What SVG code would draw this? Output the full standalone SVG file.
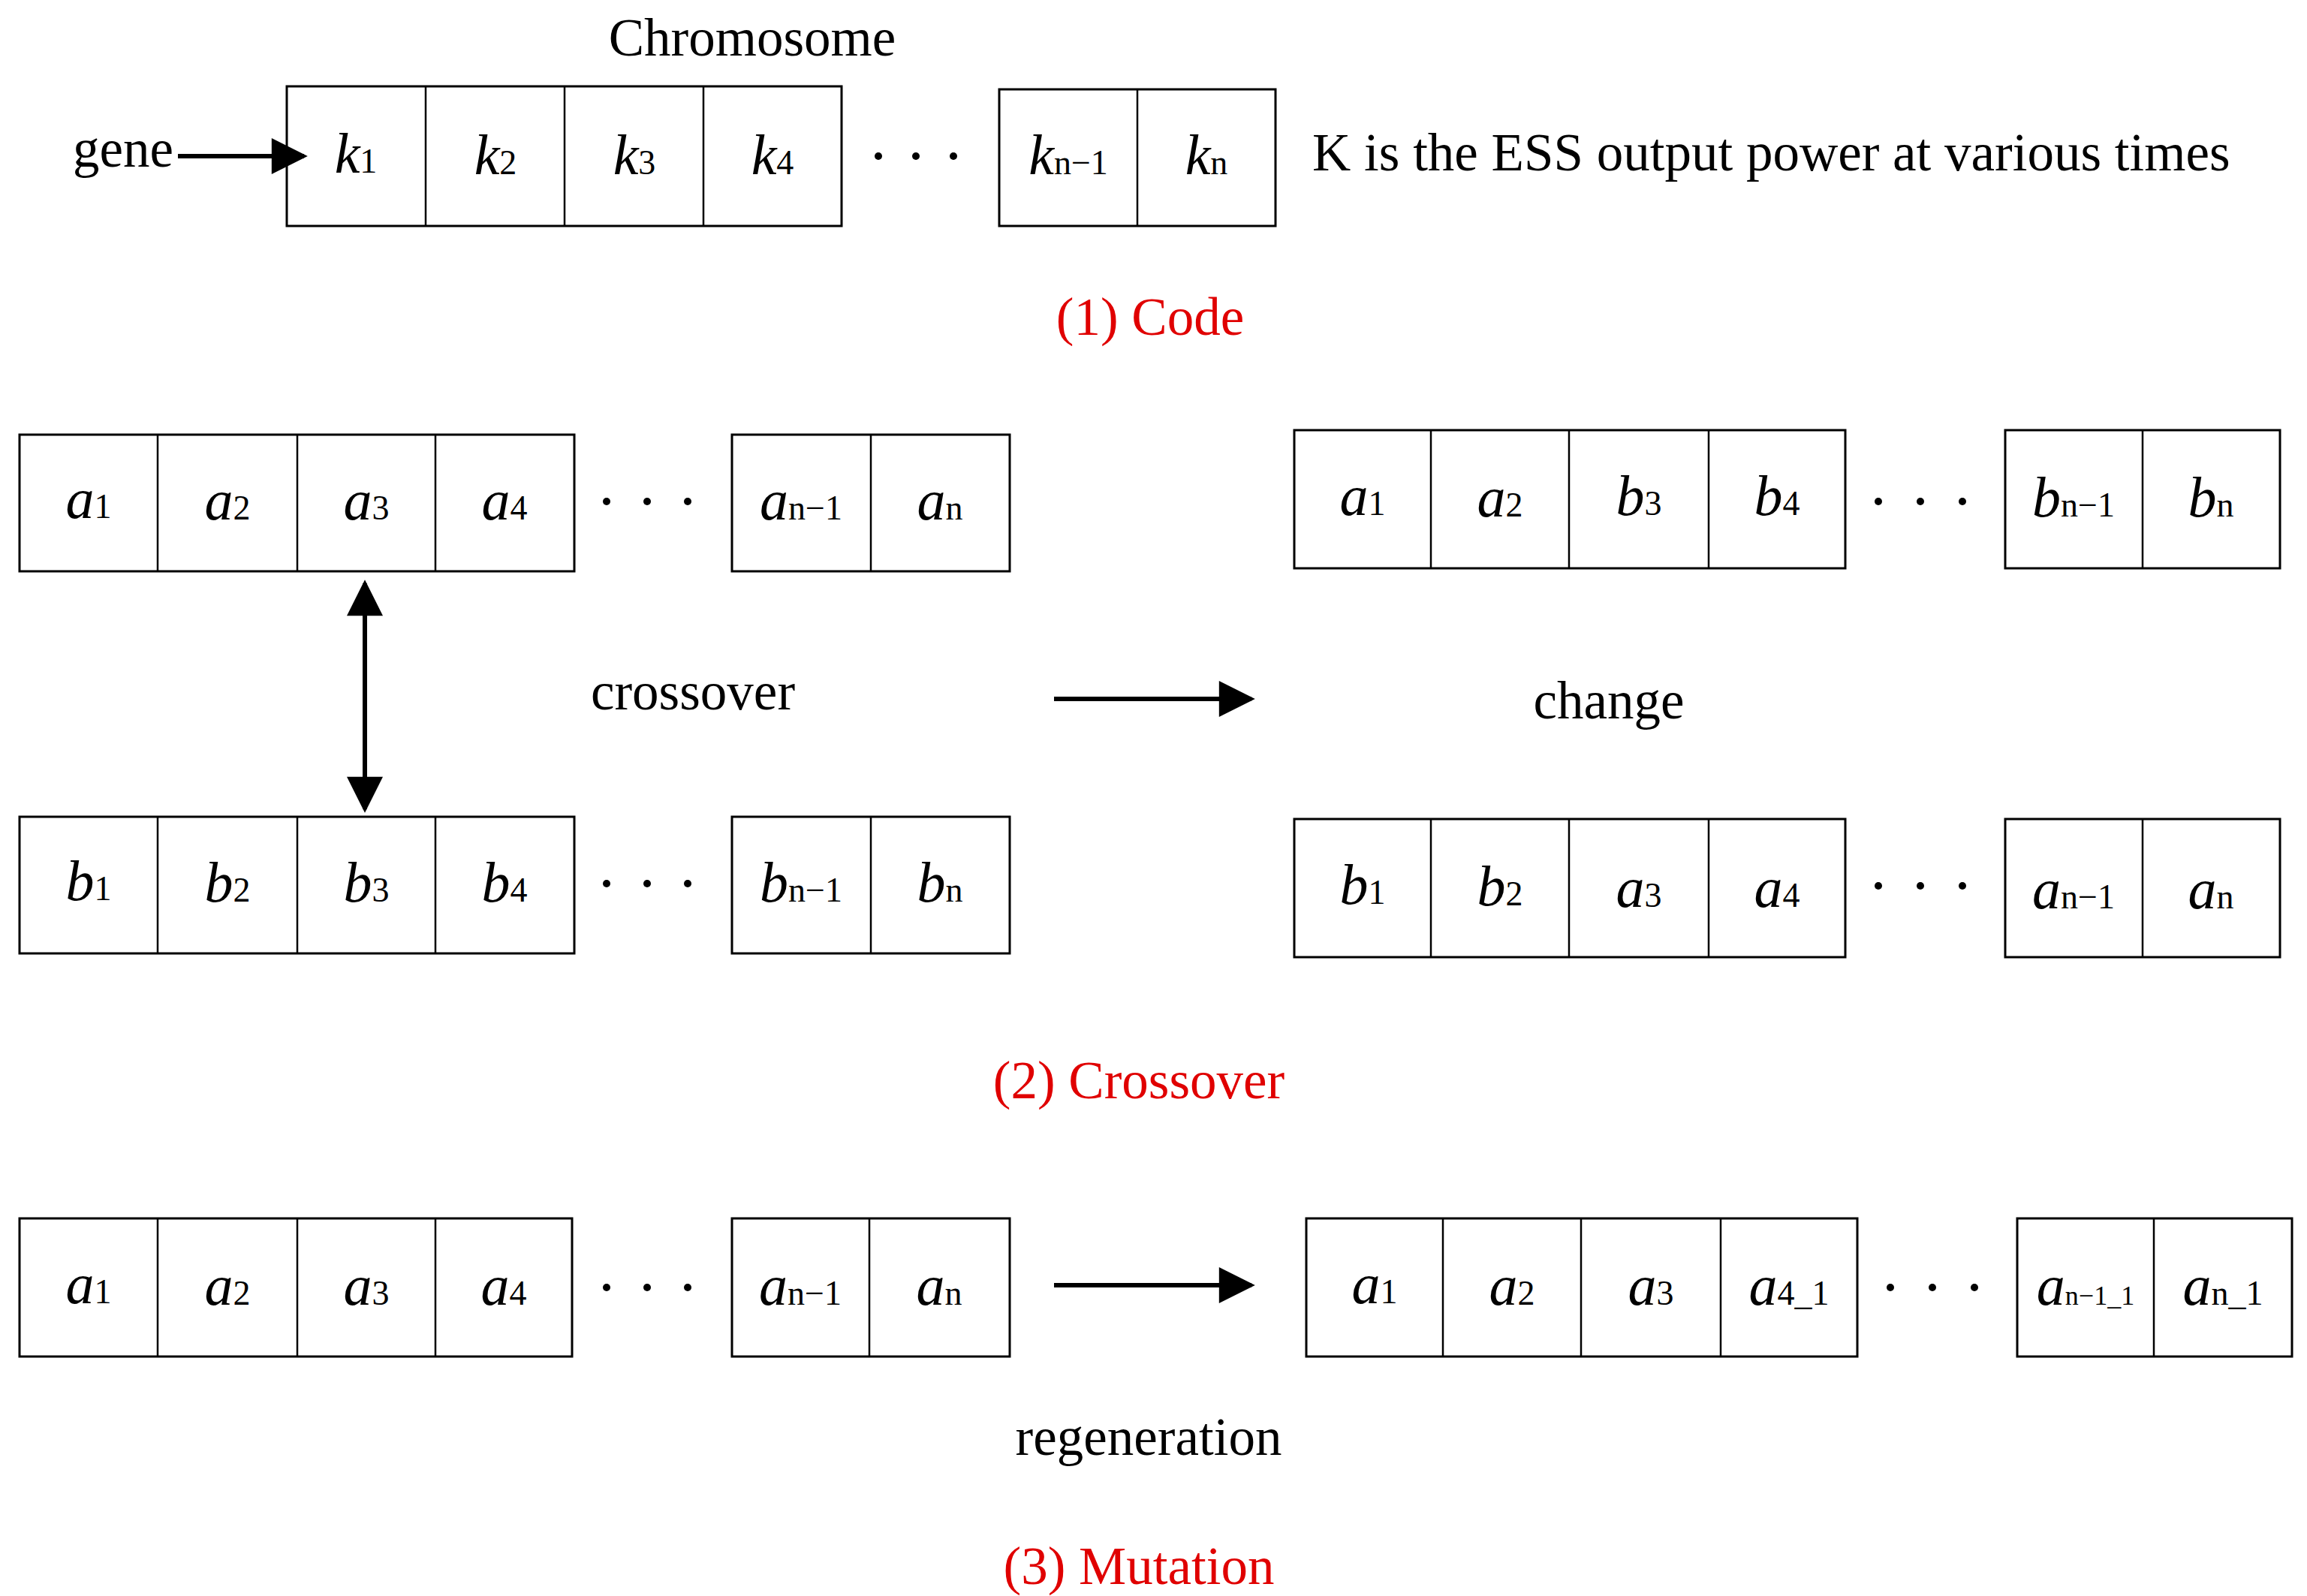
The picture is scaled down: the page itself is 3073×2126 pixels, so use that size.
<svg xmlns="http://www.w3.org/2000/svg" width="3073" height="2126" viewBox="0 0 3073 2126">
<defs>
<style>
.b{fill:#fff;stroke:#000;stroke-width:3}
.l{stroke:#000;stroke-width:2.5}
.t{font-family:"Liberation Serif",serif;font-size:71px;fill:#000}
.r{font-family:"Liberation Serif",serif;font-size:71px;fill:#e00000;text-anchor:middle}
.c{font-family:"Liberation Serif",serif;font-size:76px;font-style:italic;text-anchor:middle}
.s{font-style:normal;font-size:46px}
.s2{font-style:normal;font-size:36px}
.ln{stroke:#000;stroke-width:6;fill:none}
</style>
<marker id="a" viewBox="0 0 10 10" refX="9" refY="5" markerWidth="11" markerHeight="8" orient="auto-start-reverse"><path d="M0,0L10,5L0,10z"/></marker>
</defs>
<text class="t" x="1002" y="74" text-anchor="middle">Chromosome</text>
<text class="t" x="97" y="222">gene</text>
<text class="t" x="1748" y="227">K is the ESS output power at various times</text>
<text class="r" x="1532" y="446">(1) Code</text>
<text class="t" x="923" y="945" text-anchor="middle">crossover</text>
<text class="t" x="2143" y="957" text-anchor="middle">change</text>
<text class="r" x="1517" y="1463">(2) Crossover</text>
<text class="t" x="1530" y="1938" text-anchor="middle">regeneration</text>
<text class="r" x="1517" y="2110">(3) Mutation</text>

<g id="row-k">
<rect class="b" x="382" y="115" width="739" height="186"/>
<line class="l" x1="567" y1="115" x2="567" y2="301"/><line class="l" x1="752" y1="115" x2="752" y2="301"/><line class="l" x1="937" y1="115" x2="937" y2="301"/>
<rect class="b" x="1331" y="119" width="368" height="182"/><line class="l" x1="1515" y1="119" x2="1515" y2="301"/>
<text class="c" x="474" y="230">k<tspan class="s">1</tspan></text>
<text class="c" x="660" y="232">k<tspan class="s">2</tspan></text>
<text class="c" x="845" y="232">k<tspan class="s">3</tspan></text>
<text class="c" x="1029" y="232">k<tspan class="s">4</tspan></text>
<text class="c" x="1423" y="232">k<tspan class="s">n−1</tspan></text>
<text class="c" x="1607" y="232">k<tspan class="s">n</tspan></text>
<circle cx="1170" cy="208" r="5"/><circle cx="1220" cy="208" r="5"/><circle cx="1270" cy="208" r="5"/>
</g>

<g id="row-a">
<rect class="b" x="26" y="579" width="739" height="182"/>
<line class="l" x1="210" y1="579" x2="210" y2="761"/><line class="l" x1="396" y1="579" x2="396" y2="761"/><line class="l" x1="580" y1="579" x2="580" y2="761"/>
<rect class="b" x="975" y="579" width="370" height="182"/><line class="l" x1="1160" y1="579" x2="1160" y2="761"/>
<text class="c" x="118" y="690">a<tspan class="s">1</tspan></text>
<text class="c" x="303" y="692">a<tspan class="s">2</tspan></text>
<text class="c" x="488" y="692">a<tspan class="s">3</tspan></text>
<text class="c" x="672" y="692">a<tspan class="s">4</tspan></text>
<text class="c" x="1067" y="692">a<tspan class="s">n−1</tspan></text>
<text class="c" x="1252" y="692">a<tspan class="s">n</tspan></text>
<circle cx="808" cy="668" r="5"/><circle cx="862" cy="668" r="5"/><circle cx="916" cy="668" r="5"/>
</g>

<g id="row-b">
<rect class="b" x="26" y="1088" width="739" height="182"/>
<line class="l" x1="210" y1="1088" x2="210" y2="1270"/><line class="l" x1="396" y1="1088" x2="396" y2="1270"/><line class="l" x1="580" y1="1088" x2="580" y2="1270"/>
<rect class="b" x="975" y="1088" width="370" height="182"/><line class="l" x1="1160" y1="1088" x2="1160" y2="1270"/>
<text class="c" x="118" y="1199">b<tspan class="s">1</tspan></text>
<text class="c" x="303" y="1201">b<tspan class="s">2</tspan></text>
<text class="c" x="488" y="1201">b<tspan class="s">3</tspan></text>
<text class="c" x="672" y="1201">b<tspan class="s">4</tspan></text>
<text class="c" x="1067" y="1201">b<tspan class="s">n−1</tspan></text>
<text class="c" x="1252" y="1201">b<tspan class="s">n</tspan></text>
<circle cx="808" cy="1177" r="5"/><circle cx="862" cy="1177" r="5"/><circle cx="916" cy="1177" r="5"/>
</g>

<g id="row-a2">
<rect class="b" x="1724" y="573" width="734" height="184"/>
<line class="l" x1="1906" y1="573" x2="1906" y2="757"/><line class="l" x1="2090" y1="573" x2="2090" y2="757"/><line class="l" x1="2276" y1="573" x2="2276" y2="757"/>
<rect class="b" x="2671" y="573" width="366" height="184"/><line class="l" x1="2854" y1="573" x2="2854" y2="757"/>
<text class="c" x="1815" y="686">a<tspan class="s">1</tspan></text>
<text class="c" x="1998" y="688">a<tspan class="s">2</tspan></text>
<text class="c" x="2183" y="686">b<tspan class="s">3</tspan></text>
<text class="c" x="2367" y="686">b<tspan class="s">4</tspan></text>
<text class="c" x="2762" y="688">b<tspan class="s">n−1</tspan></text>
<text class="c" x="2945" y="688">b<tspan class="s">n</tspan></text>
<circle cx="2502" cy="668" r="5"/><circle cx="2558" cy="668" r="5"/><circle cx="2614" cy="668" r="5"/>
</g>

<g id="row-b2">
<rect class="b" x="1724" y="1091" width="734" height="184"/>
<line class="l" x1="1906" y1="1091" x2="1906" y2="1275"/><line class="l" x1="2090" y1="1091" x2="2090" y2="1275"/><line class="l" x1="2276" y1="1091" x2="2276" y2="1275"/>
<rect class="b" x="2671" y="1091" width="366" height="184"/><line class="l" x1="2854" y1="1091" x2="2854" y2="1275"/>
<text class="c" x="1815" y="1204">b<tspan class="s">1</tspan></text>
<text class="c" x="1998" y="1206">b<tspan class="s">2</tspan></text>
<text class="c" x="2183" y="1208">a<tspan class="s">3</tspan></text>
<text class="c" x="2367" y="1208">a<tspan class="s">4</tspan></text>
<text class="c" x="2762" y="1210">a<tspan class="s">n−1</tspan></text>
<text class="c" x="2945" y="1210">a<tspan class="s">n</tspan></text>
<circle cx="2502" cy="1180" r="5"/><circle cx="2558" cy="1180" r="5"/><circle cx="2614" cy="1180" r="5"/>
</g>

<g id="row-m">
<rect class="b" x="26" y="1623" width="736" height="184"/>
<line class="l" x1="210" y1="1623" x2="210" y2="1807"/><line class="l" x1="396" y1="1623" x2="396" y2="1807"/><line class="l" x1="580" y1="1623" x2="580" y2="1807"/>
<rect class="b" x="975" y="1623" width="370" height="184"/><line class="l" x1="1158" y1="1623" x2="1158" y2="1807"/>
<text class="c" x="118" y="1736">a<tspan class="s">1</tspan></text>
<text class="c" x="303" y="1738">a<tspan class="s">2</tspan></text>
<text class="c" x="488" y="1738">a<tspan class="s">3</tspan></text>
<text class="c" x="671" y="1738">a<tspan class="s">4</tspan></text>
<text class="c" x="1066" y="1738">a<tspan class="s">n−1</tspan></text>
<text class="c" x="1251" y="1738">a<tspan class="s">n</tspan></text>
<circle cx="808" cy="1715" r="5"/><circle cx="862" cy="1715" r="5"/><circle cx="916" cy="1715" r="5"/>
</g>

<g id="row-m2">
<rect class="b" x="1740" y="1623" width="734" height="184"/>
<line class="l" x1="1922" y1="1623" x2="1922" y2="1807"/><line class="l" x1="2106" y1="1623" x2="2106" y2="1807"/><line class="l" x1="2292" y1="1623" x2="2292" y2="1807"/>
<rect class="b" x="2687" y="1623" width="366" height="184"/><line class="l" x1="2869" y1="1623" x2="2869" y2="1807"/>
<text class="c" x="1831" y="1736">a<tspan class="s">1</tspan></text>
<text class="c" x="2014" y="1738">a<tspan class="s">2</tspan></text>
<text class="c" x="2199" y="1738">a<tspan class="s">3</tspan></text>
<text class="c" x="2383" y="1738">a<tspan class="s">4_1</tspan></text>
<text class="c" x="2778" y="1738">a<tspan class="s2">n−1_1</tspan></text>
<text class="c" x="2961" y="1738">a<tspan class="s">n_1</tspan></text>
<circle cx="2518" cy="1715" r="5"/><circle cx="2574" cy="1715" r="5"/><circle cx="2630" cy="1715" r="5"/>
</g>

<g id="connectors">
<line class="ln" x1="237" y1="208" x2="405" y2="208" marker-end="url(#a)"/>
<line class="ln" x1="486" y1="777" x2="486" y2="1078" marker-start="url(#a)" marker-end="url(#a)"/>
<line class="ln" x1="1404" y1="931" x2="1667" y2="931" marker-end="url(#a)"/>
<line class="ln" x1="1404" y1="1712" x2="1667" y2="1712" marker-end="url(#a)"/>
</g>
</svg>
